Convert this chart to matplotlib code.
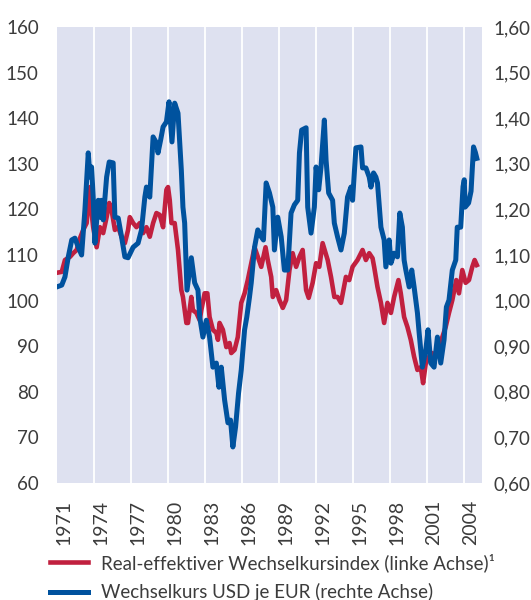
import matplotlib
matplotlib.use("Agg")
import matplotlib.pyplot as plt
from matplotlib.ticker import FixedLocator, FuncFormatter

# Real-effektiver Wechselkursindex (linke Achse)
reer_years = [1971.0, 1971.4, 1971.66, 1972.07, 1972.33, 1972.61, 1972.88, 1973.14, 1973.42, 1973.55,
              1973.69, 1973.82, 1973.95, 1974.23, 1974.5, 1974.76, 1975.04, 1975.25, 1975.44, 1975.71,
              1975.98, 1976.25, 1976.52, 1976.78, 1976.92, 1977.19, 1977.46, 1977.73, 1978.0, 1978.27,
              1978.54, 1978.81, 1979.08, 1979.35, 1979.62, 1979.89, 1980.02, 1980.16, 1980.3, 1980.56,
              1980.83, 1981.1, 1981.23, 1981.51, 1981.64, 1981.91, 1982.04, 1982.32, 1982.59, 1982.72,
              1982.99, 1983.21, 1983.39, 1983.66, 1983.94, 1984.07, 1984.2, 1984.47, 1984.75, 1985.01,
              1985.15, 1985.42, 1985.68, 1985.96, 1986.23, 1986.49, 1986.77, 1987.04, 1987.3, 1987.58,
              1987.93, 1988.11, 1988.39, 1988.52, 1988.79, 1989.06, 1989.33, 1989.6, 1989.87, 1990.13,
              1990.41, 1990.68, 1990.94, 1991.22, 1991.43, 1991.75, 1992.03, 1992.29, 1992.56, 1992.97,
              1993.24, 1993.51, 1993.77, 1994.05, 1994.45, 1994.72, 1994.99, 1995.39, 1995.8, 1996.07,
              1996.34, 1996.61, 1996.74, 1997.01, 1997.29, 1997.55, 1997.82, 1998.1, 1998.36, 1998.71,
              1998.9, 1999.17, 1999.44, 1999.71, 1999.98, 2000.25, 2000.52, 2000.71, 2000.93, 2001.19,
              2001.46, 2001.74, 2002.0, 2002.27, 2002.54, 2002.81, 2003.08, 2003.4, 2003.62, 2003.89,
              2004.16, 2004.43, 2004.7, 2004.89, 2005.07]
reer_values = [106.1, 106.3, 108.9, 109.6, 110.4, 111.1, 113.7, 115.5, 117.0, 122.0,
               124.9, 119.2, 116.1, 111.7, 116.1, 114.8, 118.3, 121.4, 119.9, 115.5,
               116.1, 114.0, 112.6, 115.5, 118.3, 117.0, 116.1, 117.0, 114.8, 116.1,
               114.0, 117.0, 119.2, 118.8, 116.1, 124.3, 124.9, 122.0, 117.0, 117.0,
               111.1, 102.3, 100.8, 95.1, 95.1, 100.8, 97.9, 97.3, 95.7, 97.9,
               101.6, 101.6, 96.4, 93.6, 92.9, 91.4, 95.1, 93.6, 89.8, 90.7,
               88.5, 89.2, 92.0, 99.5, 101.6, 104.5, 108.2, 111.7, 109.6, 107.4,
               111.7, 108.9, 105.2, 100.8, 102.3, 100.1, 98.4, 100.1, 106.7, 110.4,
               107.4, 109.6, 111.1, 102.3, 100.6, 103.9, 108.2, 107.4, 112.6, 108.9,
               105.2, 100.8, 100.8, 99.5, 105.2, 104.5, 107.4, 108.9, 111.1, 108.9,
               110.4, 109.3, 107.4, 103.0, 99.5, 95.1, 99.5, 97.3, 100.8, 104.5,
               101.6, 96.4, 94.2, 91.4, 87.7, 84.8, 85.4, 81.9, 86.3, 87.7,
               88.5, 87.7, 89.8, 92.0, 94.2, 97.3, 100.1, 104.5, 101.6, 106.7,
               103.9, 104.5, 107.4, 108.9, 107.8]

# Wechselkurs USD je EUR (rechte Achse)
usd_years = [1971.0, 1971.4, 1971.66, 1971.93, 1972.21, 1972.47, 1972.74, 1973.01, 1973.14, 1973.28,
             1973.55, 1973.69, 1973.82, 1973.95, 1974.09, 1974.36, 1974.5, 1974.63, 1974.76, 1975.04,
             1975.25, 1975.57, 1975.71, 1975.98, 1976.25, 1976.52, 1976.78, 1977.19, 1977.59, 1977.87,
             1978.14, 1978.27, 1978.54, 1978.81, 1979.08, 1979.21, 1979.42, 1979.62, 1979.89, 1980.1,
             1980.34, 1980.56, 1980.83, 1981.1, 1981.23, 1981.37, 1981.56, 1981.91, 1982.18, 1982.45,
             1982.59, 1982.85, 1983.13, 1983.39, 1983.66, 1983.94, 1984.15, 1984.34, 1984.61, 1984.88,
             1985.09, 1985.28, 1985.5, 1985.74, 1985.96, 1986.23, 1986.41, 1986.63, 1986.77, 1987.04,
             1987.3, 1987.58, 1987.76, 1987.98, 1988.25, 1988.52, 1988.65, 1988.92, 1989.2, 1989.46,
             1989.73, 1990.0, 1990.27, 1990.54, 1990.68, 1990.86, 1991.22, 1991.35, 1991.62, 1991.89,
             1992.03, 1992.24, 1992.43, 1992.7, 1992.84, 1993.05, 1993.37, 1993.51, 1993.77, 1994.05,
             1994.32, 1994.58, 1994.86, 1994.99, 1995.26, 1995.67, 1995.8, 1996.07, 1996.34, 1996.48,
             1996.69, 1996.88, 1997.01, 1997.29, 1997.55, 1997.69, 1997.96, 1998.1, 1998.36, 1998.63,
             1998.82, 1999.03, 1999.17, 1999.31, 1999.58, 1999.79, 1999.98, 2000.25, 2000.39, 2000.65,
             2000.93, 2001.11, 2001.33, 2001.6, 2001.87, 2002.14, 2002.41, 2002.6, 2002.81, 2003.08,
             2003.36, 2003.48, 2003.76, 2003.95, 2004.05, 2004.12, 2004.4, 2004.6, 2004.8, 2004.95,
             2005.07]
usd_values = [1.030, 1.034, 1.052, 1.096, 1.133, 1.137, 1.117, 1.100, 1.148, 1.199,
              1.324, 1.271, 1.293, 1.227, 1.126, 1.220, 1.183, 1.220, 1.177, 1.271,
              1.304, 1.302, 1.183, 1.181, 1.140, 1.096, 1.094, 1.117, 1.126, 1.155,
              1.227, 1.249, 1.227, 1.359, 1.346, 1.324, 1.352, 1.381, 1.392, 1.436,
              1.348, 1.433, 1.411, 1.286, 1.205, 1.170, 1.023, 1.094, 1.039, 1.023,
              0.964, 0.920, 0.957, 0.920, 0.854, 0.863, 0.810, 0.854, 0.782, 0.732,
              0.738, 0.679, 0.723, 0.797, 0.848, 0.936, 0.964, 1.008, 1.039, 1.117,
              1.155, 1.140, 1.133, 1.258, 1.236, 1.205, 1.111, 1.183, 1.140, 1.067,
              1.067, 1.192, 1.210, 1.220, 1.324, 1.374, 1.379, 1.205, 1.148, 1.205,
              1.293, 1.243, 1.293, 1.396, 1.308, 1.236, 1.220, 1.170, 1.140, 1.111,
              1.148, 1.227, 1.249, 1.220, 1.335, 1.337, 1.291, 1.291, 1.271, 1.249,
              1.280, 1.271, 1.258, 1.161, 1.133, 1.074, 1.133, 1.082, 1.104, 1.096,
              1.192, 1.161, 1.089, 1.067, 1.030, 1.067, 1.030, 0.973, 0.929, 0.854,
              0.892, 0.936, 0.863, 0.854, 0.920, 0.863, 0.914, 0.986, 1.001, 1.067,
              1.089, 1.161, 1.161, 1.250, 1.265, 1.205, 1.214, 1.240, 1.337, 1.325,
              1.312]

tick_years = list(range(1971, 2005, 3))
left_ticks = list(range(60, 161, 10))

red = "#c1203f"
blue = "#00529e"
bg = "#dee1f0"
text_col = "#3c3c3c"
tick_col = "#7d93c9"

plt.rcParams["font.family"] = ["Lato", "DejaVu Sans"]

fig = plt.figure(figsize=(5.31, 6.0), dpi=100)
ax = fig.add_axes([0.107, 0.195, 0.801, 0.76])
ax2 = ax.twinx()

ax.set_facecolor(bg)
line_r, = ax.plot(reer_years, reer_values, color=red, lw=3.3, solid_joinstyle="round")
line_b, = ax2.plot(usd_years, usd_values, color=blue, lw=3.6, solid_joinstyle="round")

ax.set_xlim(1971, 2005.5)
ax.set_ylim(60, 160)
ax2.set_ylim(0.6, 1.6)

# white vertical separators every three years
for yr in tick_years[1:]:
    ax.axvline(yr, color="white", lw=1.3, zorder=0.5)

# x labels sit roughly mid-year
ax.set_xticks([y + 0.6 for y in tick_years])
ax.set_xticklabels([str(y) for y in tick_years], rotation=90, fontsize=14, color=text_col)
ax.tick_params(axis="x", length=0, pad=12)

ax.set_yticks(left_ticks)
ax.set_yticklabels([str(v) for v in left_ticks], fontsize=13.5, color=text_col)
ax.yaxis.set_minor_locator(FixedLocator(left_ticks[1:-1]))
ax.tick_params(axis="y", which="major", length=0, pad=13)
ax.tick_params(axis="y", which="minor", direction="in", length=10.5, width=1.2, color=tick_col)

right_ticks = [v / 100 for v in left_ticks]
ax2.set_yticks(right_ticks)
ax2.yaxis.set_major_formatter(FuncFormatter(lambda v, p: f"{v:.2f}".replace(".", ",")))
ax2.yaxis.set_minor_locator(FixedLocator(right_ticks[1:-1]))
ax2.tick_params(axis="y", which="major", length=0, pad=8, labelsize=13.5, labelcolor=text_col)
ax2.tick_params(axis="y", which="minor", direction="in", length=10.5, width=1.2, color=tick_col)

for a in (ax, ax2):
    for s in a.spines.values():
        s.set_visible(False)

leg = fig.legend([line_r, line_b],
                 ["Real-effektiver Wechselkursindex (linke Achse)¹",
                  "Wechselkurs USD je EUR (rechte Achse)"],
                 loc="upper left", bbox_to_anchor=(0.095, 0.078), frameon=False,
                 fontsize=13.5, handlelength=2.0, handletextpad=0.7, labelspacing=0.6,
                 borderaxespad=0, borderpad=0)
for t in leg.get_texts():
    t.set_color(text_col)

fig.savefig("out.png", dpi=100)
